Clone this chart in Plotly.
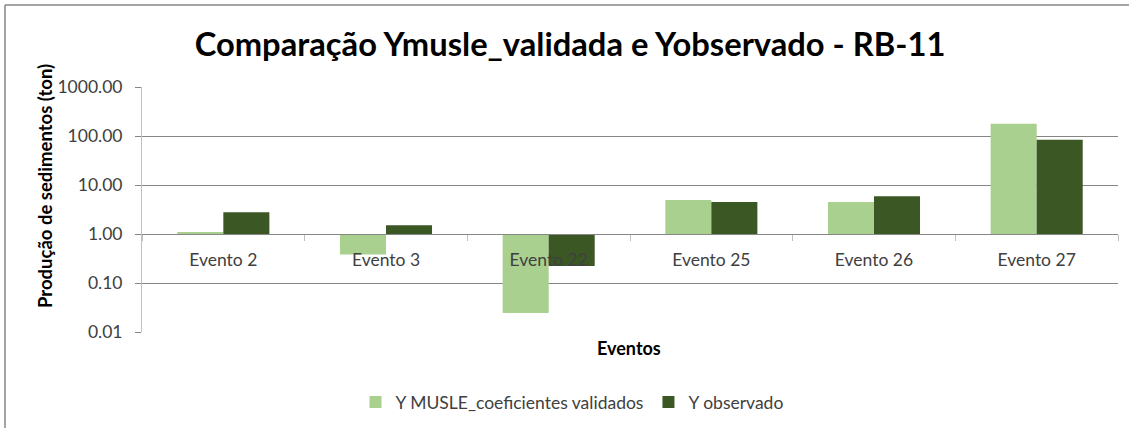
import plotly.graph_objects as go

categories = ["Evento 2", "Evento 3", "Evento 22", "Evento 25", "Evento 26", "Evento 27"]
y_musle = [1.08, 0.38, 0.0245, 4.95, 4.5, 178.0]
y_obs = [2.77, 1.50, 0.222, 4.5, 5.9, 84.0]
series_names = ["Y MUSLE_coeficientes validados", "Y observado"]
tick_vals = [0.01, 0.1, 1, 10, 100, 1000]
tick_text = ["0.01", "0.10", "1.00", "10.00", "100.00", "1000.00"]

FONT = "Lato"
BASE = 1.0
light = "#A9D08E"
dark = "#3A5724"

fig = go.Figure()
for name, vals, col in [(series_names[0], y_musle, light), (series_names[1], y_obs, dark)]:
    fig.add_trace(go.Bar(
        x=categories,
        y=[v - BASE for v in vals],
        base=BASE,
        name=name,
        marker=dict(color=col, line=dict(width=0)),
        customdata=vals,
        hovertemplate="%{x}: %{customdata:.2f}<extra>" + name + "</extra>",
    ))

L, R, T, B = 142, 11, 87, 96
PW, PH = 1129 - L - R, 428 - T - B
fig.update_layout(
    width=1129, height=428,
    margin=dict(l=L, r=R, t=T, b=B, pad=0, autoexpand=False),
    paper_bgcolor="white", plot_bgcolor="white",
    barmode="group", bargap=0.434, bargroupgap=0,
    font=dict(family=FONT, color="#404040", size=17),
    title=dict(text="<b>Comparação Ymusle_validada e Yobservado - RB-11</b>",
               x=570 / 1129, xanchor="center", y=1 - 45 / 428, yanchor="middle",
               font=dict(family=FONT, size=32.7, color="black")),
    showlegend=True,
    legend=dict(orientation="h", xref="container", yref="container",
                x=572 / 1129, xanchor="center", y=1 - 402 / 428, yanchor="middle",
                font=dict(size=17.5, color="#404040"), traceorder="normal",
                itemwidth=30),
    xaxis=dict(
        anchor="free", position=0.4, automargin=False,
        showline=True, linecolor="#868686", linewidth=1,
        ticks="outside", tickson="boundaries", ticklen=6, tickcolor="#BFBFBF",
        showgrid=False, ticklabelstandoff=10,
        tickfont=dict(size=17.5, color="#404040"),
    ),
    yaxis=dict(
        type="log", range=[-2, 3], automargin=False,
        tickvals=tick_vals, ticktext=tick_text,
        showgrid=True, gridcolor="#868686", gridwidth=1,
        showline=True, linecolor="#BFBFBF", linewidth=1,
        ticks="outside", ticklen=6, tickcolor="#868686",
        ticklabelstandoff=9,
        tickfont=dict(size=17.5, color="#404040"),
        zeroline=False,
    ),
)

fig.add_annotation(text="<b>Produção de sedimentos (ton)</b>", textangle=-90,
                   xref="paper", yref="paper", x=(45 - L) / PW, y=(332 - 186) / PH,
                   xanchor="center", yanchor="middle", showarrow=False,
                   font=dict(family=FONT, size=18.5, color="black"))
fig.add_annotation(text="<b>Eventos</b>",
                   xref="paper", yref="paper", x=(629 - L) / PW, y=(332 - 348) / PH,
                   xanchor="center", yanchor="middle", showarrow=False,
                   font=dict(family=FONT, size=18, color="black"))

# chart-area border (only top and left edges visible in the crop)
fig.add_shape(type="line", xref="paper", yref="paper",
              xsizemode="pixel", ysizemode="pixel", xanchor=0, yanchor=0,
              x0=5 - L, x1=1129 - L, y0=332 - 5, y1=332 - 5,
              line=dict(color="#868686", width=1.5))
fig.add_shape(type="line", xref="paper", yref="paper",
              xsizemode="pixel", ysizemode="pixel", xanchor=0, yanchor=0,
              x0=5 - L, x1=5 - L, y0=332 - 5, y1=332 - 430,
              line=dict(color="#868686", width=1.5))

fig.write_html("out.html", config={"displayModeBar": False},
               post_script="document.body.style.margin='0';document.body.style.overflow='hidden';")
